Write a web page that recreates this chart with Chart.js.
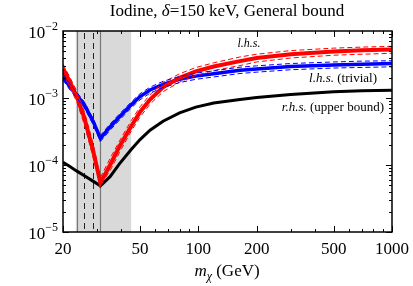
<!DOCTYPE html>
<html>
<head>
<meta charset="utf-8">
<script src="https://cdn.jsdelivr.net/npm/chart.js@4.4.1/dist/chart.umd.min.js"></script>
<style>
  html, body { margin: 0; padding: 0; background: #fff; }
  canvas { display: block; }
</style>
</head>
<body>
<canvas id="grafico" width="413" height="286"></canvas>
<script>
// dark matter mass (GeV)
const massGeV = [20, 21.7, 23.6, 25.8, 28.7, 31.2, 35, 39.2, 45, 50, 56.3, 65.7, 80, 97, 120, 164, 200, 300, 500, 700, 1000];

// l.h.s. (red) with its dashed band
const lhs    = [2.76e-3, 1.74e-3, 1.04e-3, 5.0e-4, 1.58e-4, 5.4e-5, 1.0e-4, 1.9e-4, 3.8e-4, 6.2e-4, 9.5e-4, 1.45e-3, 2.0e-3, 2.5e-3, 2.95e-3, 3.55e-3, 3.95e-3, 4.5e-3, 4.95e-3, 5.15e-3, 5.3e-3];
const lhsHi  = [3.2e-3, 2.05e-3, 1.25e-3, 6.2e-4, 2.0e-4, 6.5e-5, 1.25e-4, 2.3e-4, 4.6e-4, 7.4e-4, 1.12e-3, 1.7e-3, 2.3e-3, 2.85e-3, 3.35e-3, 4.1e-3, 4.5e-3, 5.1e-3, 5.55e-3, 5.75e-3, 5.9e-3];
const lhsLo  = [2.35e-3, 1.45e-3, 8.6e-4, 4.0e-4, 1.25e-4, 5.0e-5, 8.2e-5, 1.55e-4, 3.2e-4, 5.2e-4, 8.1e-4, 1.24e-3, 1.73e-3, 2.17e-3, 2.57e-3, 3.05e-3, 3.45e-3, 3.95e-3, 4.35e-3, 4.5e-3, 4.65e-3];

// l.h.s. trivial (blue)
const triv   = [2.07e-3, 1.47e-3, 1.1e-3, 7.9e-4, 4.4e-4, 2.5e-4, 3.7e-4, 5.25e-4, 7.9e-4, 1.05e-3, 1.32e-3, 1.6e-3, 1.9e-3, 2.12e-3, 2.3e-3, 2.6e-3, 2.72e-3, 2.95e-3, 3.12e-3, 3.2e-3, 3.27e-3];
const trivHi = [2.3e-3, 1.62e-3, 1.21e-3, 8.7e-4, 4.85e-4, 2.75e-4, 4.1e-4, 5.8e-4, 8.7e-4, 1.16e-3, 1.45e-3, 1.77e-3, 2.1e-3, 2.35e-3, 2.55e-3, 2.88e-3, 3.02e-3, 3.27e-3, 3.45e-3, 3.55e-3, 3.6e-3];
const trivLo = [1.86e-3, 1.32e-3, 9.9e-4, 7.1e-4, 3.95e-4, 2.25e-4, 3.3e-4, 4.7e-4, 7.1e-4, 9.4e-4, 1.18e-3, 1.43e-3, 1.7e-3, 1.9e-3, 2.06e-3, 2.32e-3, 2.43e-3, 2.64e-3, 2.8e-3, 2.86e-3, 2.92e-3];

// r.h.s. upper bound (black)
const rhs    = [1.1e-4, 9.5e-5, 8.1e-5, 6.9e-5, 5.7e-5, 4.9e-5, 6.7e-5, 1.05e-4, 1.7e-4, 2.4e-4, 3.3e-4, 4.5e-4, 6.0e-4, 7.3e-4, 8.4e-4, 9.5e-4, 1.02e-3, 1.13e-3, 1.24e-3, 1.28e-3, 1.31e-3];

// shaded region and vertical markers (GeV)
const bandRange   = [23.3, 45];
const solidLines  = [23.5, 31.0];
const dashedLines = [25.8, 28.7];

const xTickLabels = [20, 50, 100, 200, 500, 1000];
const xMinorTicks = [30, 40, 60, 70, 80, 90, 300, 400, 600, 700, 800, 900];
const yTickExps   = [-2, -3, -4, -5];

const serif = '"Liberation Serif", "DejaVu Serif", serif';

function pts(ys) {
    return massGeV.map((m, i) => ({ x: m, y: ys[i] }));
}

function drawRuns(ctx, runs, x, y, align) {
    let total = 0;
    runs.forEach(r => { ctx.font = r[1]; total += ctx.measureText(r[0]).width; });
    let cx = align === 'center' ? x - total / 2 : (align === 'right' ? x - total : x);
    runs.forEach(r => {
        ctx.font = r[1];
        ctx.fillText(r[0], cx, y + (r[2] || 0));
        cx += ctx.measureText(r[0]).width;
    });
}

const decor = {
    id: 'decor',
    beforeDatasetsDraw(chart) {
        const ctx = chart.ctx, a = chart.chartArea;
        const xs = chart.scales.x;
        ctx.save();
        const b0 = xs.getPixelForValue(bandRange[0]), b1 = xs.getPixelForValue(bandRange[1]);
        ctx.fillStyle = '#d9d9d9';
        ctx.fillRect(b0, a.top, b1 - b0, a.bottom - a.top);

        ctx.strokeStyle = '#777';
        ctx.lineWidth = 1.2;
        solidLines.forEach(v => {
            const px = Math.round(xs.getPixelForValue(v)) + 0.5;
            ctx.beginPath(); ctx.moveTo(px, a.top); ctx.lineTo(px, a.bottom); ctx.stroke();
        });
        ctx.strokeStyle = '#222';
        ctx.lineWidth = 1;
        ctx.setLineDash([6, 4]);
        dashedLines.forEach(v => {
            const px = Math.round(xs.getPixelForValue(v)) + 0.5;
            ctx.beginPath(); ctx.moveTo(px, a.top + 2); ctx.lineTo(px, a.bottom); ctx.stroke();
        });
        ctx.restore();
    },
    afterDraw(chart) {
        const ctx = chart.ctx, a = chart.chartArea;
        const xs = chart.scales.x, ys = chart.scales.y;
        ctx.save();
        ctx.strokeStyle = '#000';
        ctx.lineWidth = 1.5;
        ctx.strokeRect(a.left, a.top, a.right - a.left, a.bottom - a.top);

        ctx.lineWidth = 1;
        function vtick(px, len) {
            ctx.beginPath();
            ctx.moveTo(px, a.bottom); ctx.lineTo(px, a.bottom - len);
            ctx.moveTo(px, a.top); ctx.lineTo(px, a.top + len);
            ctx.stroke();
        }
        function htick(py, len) {
            ctx.beginPath();
            ctx.moveTo(a.left, py); ctx.lineTo(a.left + len, py);
            ctx.moveTo(a.right, py); ctx.lineTo(a.right - len, py);
            ctx.stroke();
        }
        xTickLabels.forEach(v => vtick(Math.round(xs.getPixelForValue(v)) + 0.5, 6));
        xMinorTicks.forEach(v => vtick(Math.round(xs.getPixelForValue(v)) + 0.5, 3));
        for (let e = -5; e < -2; e++) {
            for (let k = 1; k <= 9; k++) {
                const py = Math.round(ys.getPixelForValue(k * Math.pow(10, e))) + 0.5;
                htick(py, k === 1 ? 6 : 3);
            }
        }

        ctx.fillStyle = '#000';
        ctx.textBaseline = 'alphabetic';
        ctx.textAlign = 'left';
        // y tick labels
        yTickExps.forEach(e => {
            const py = ys.getPixelForValue(Math.pow(10, e));
            drawRuns(ctx, [['10', '17px ' + serif, 0], ['\u2212' + (-e), '12px ' + serif, -8]], a.left - 5, py + 7, 'right');
        });
        // x tick labels
        xTickLabels.forEach(v => {
            drawRuns(ctx, [[String(v), '17px ' + serif, 0]], xs.getPixelForValue(v), 254, 'center');
        });
        // axis title
        drawRuns(ctx, [
            ['m', 'italic 17px ' + serif, 0],
            ['\u03c7', 'italic 12px ' + serif, 4],
            [' (GeV)', '17px ' + serif, 0]
        ], 227, 276, 'center');
        // chart title
        drawRuns(ctx, [
            ['Iodine, ', '17px ' + serif, 0],
            ['\u03b4', 'italic 17px ' + serif, 0],
            ['=150 keV, General bound', '17px ' + serif, 0]
        ], 227, 16, 'center');
        // curve labels
        drawRuns(ctx, [['l.h.s.', 'italic 12px ' + serif, 0]], 249, 47, 'center');
        drawRuns(ctx, [['l.h.s.', 'italic 13px ' + serif, 0], [' (trivial)', '13px ' + serif, 0]], 377, 82, 'right');
        drawRuns(ctx, [['r.h.s.', 'italic 13px ' + serif, 0], [' (upper bound)', '13px ' + serif, 0]], 384, 111, 'right');
        ctx.restore();
    }
};

const redC = '#f00', blueC = '#00f';

function dashed(data, color) {
    return { data: pts(data), borderColor: color, borderWidth: 1, borderDash: [5, 3], pointRadius: 0, tension: 0, order: 0 };
}

new Chart(document.getElementById('grafico').getContext('2d'), {
    type: 'line',
    data: {
        datasets: [
            dashed(trivHi, blueC),
            dashed(trivLo, blueC),
            dashed(lhsHi, redC),
            dashed(lhsLo, redC),
            { label: 'l.h.s. (trivial)', data: pts(triv), borderColor: blueC, borderWidth: 3.5, pointRadius: 0, tension: 0, order: 2 },
            { label: 'l.h.s.', data: pts(lhs), borderColor: redC, borderWidth: 4, pointRadius: 0, tension: 0, order: 1 },
            { label: 'r.h.s. (upper bound)', data: pts(rhs), borderColor: '#000', borderWidth: 3, pointRadius: 0, tension: 0, order: 3 }
        ]
    },
    options: {
        responsive: false,
        animation: false,
        layout: { padding: { left: 63, right: 21, top: 31, bottom: 54 } },
        plugins: { legend: { display: false }, tooltip: { enabled: false } },
        scales: {
            x: { type: 'logarithmic', min: 20, max: 1000, display: false },
            y: { type: 'logarithmic', min: 1e-5, max: 1e-2, display: false }
        }
    },
    plugins: [decor]
});
</script>
</body>
</html>
